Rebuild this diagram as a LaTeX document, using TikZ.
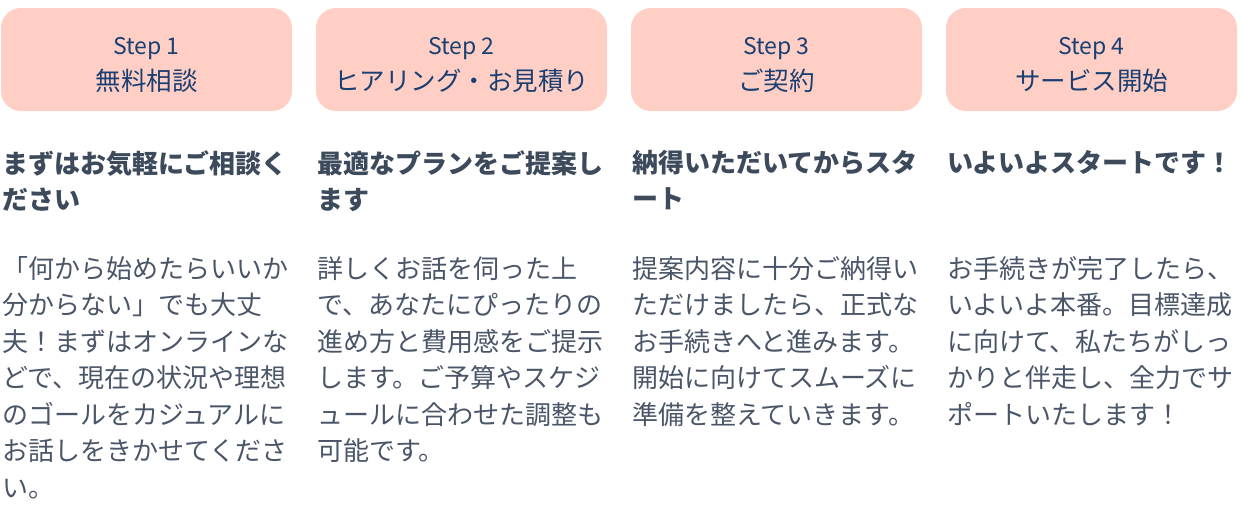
\documentclass[tikz,border=0pt]{standalone}
\usepackage{fontspec}
\setmainfont{Noto Sans CJK JP}
\definecolor{boxfill}{HTML}{FFCFC5}
\definecolor{boxtext}{HTML}{1A3F72}
\definecolor{headcol}{HTML}{3C4A5C}
\definecolor{bodycol}{HTML}{4A5568}
\begin{document}
\begin{tikzpicture}[x=1pt,y=-1pt,
  stepbox/.style={fill=boxfill, draw=none, rounded corners=20pt, minimum width=291pt, minimum height=103pt, inner sep=0pt},
  steplbl/.style={anchor=base, inner sep=0pt, text=boxtext, font=\fontsize{23}{26}\selectfont},
  steptitle/.style={anchor=base, inner sep=0pt, text=boxtext, font=\fontsize{25.5}{30}\selectfont},
  headtext/.style={anchor=north west, inner sep=0pt, align=left, text=headcol, font=\fontsize{26}{36.5}\selectfont\bfseries},
  bodytext/.style={anchor=north west, inner sep=0pt, align=left, text=bodycol, font=\fontsize{26}{36.5}\selectfont}]
\useasboundingbox (0,0) rectangle (1241,507);
% step boxes
\node[stepbox] (box1) at (146.5,59.5) {};
\node[stepbox] (box2) at (461.5,59.5) {};
\node[stepbox] (box3) at (776.5,59.5) {};
\node[stepbox] (box4) at (1091.5,59.5) {};
\node[steplbl] (s1) at (146.5,54) {Step 1};
\node[steplbl] (s2) at (461.5,54) {Step 2};
\node[steplbl] (s3) at (776.5,54) {Step 3};
\node[steplbl] (s4) at (1091.5,54) {Step 4};
\node[steptitle] (t1) at (146.5,90) {無料相談};
\node[steptitle] (t2) at (461.5,90) {ヒアリング・お見積り};
\node[steptitle] (t3) at (776.5,90) {ご契約};
\node[steptitle] (t4) at (1091.5,90) {サービス開始};
% headings
\node[headtext] (h1) at (2,150) {まずはお気軽にご相談く\\ださい};
\node[headtext] (h2) at (317,150) {最適なプランをご提案し\\ます};
\node[headtext] (h3) at (632,150) {納得いただいてからスタ\\ート};
\node[headtext] (h4) at (947,150) {いよいよスタートです！};
% bodies
\node[bodytext] (b1) at (2,256) {「何から始めたらいいか\\分からない」でも大丈\\夫！まずはオンラインな\\どで、現在の状況や理想\\のゴールをカジュアルに\\お話しをきかせてくださ\\い。};
\node[bodytext] (b2) at (317,256) {詳しくお話を伺った上\\で、あなたにぴったりの\\進め方と費用感をご提示\\します。ご予算やスケジ\\ュールに合わせた調整も\\可能です。};
\node[bodytext] (b3) at (632,256) {提案内容に十分ご納得い\\ただけましたら、正式な\\お手続きへと進みます。\\開始に向けてスムーズに\\準備を整えていきます。};
\node[bodytext] (b4) at (947,256) {お手続きが完了したら、\\いよいよ本番。目標達成\\に向けて、私たちがしっ\\かりと伴走し、全力でサ\\ポートいたします！};
\end{tikzpicture}
\end{document}
